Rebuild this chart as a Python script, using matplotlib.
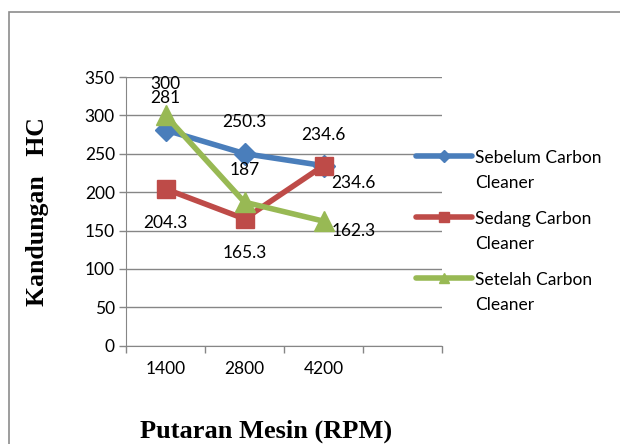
import numpy as np
import matplotlib.pyplot as plt
from matplotlib.patches import Rectangle
from matplotlib.legend_handler import HandlerLine2D

categories = ["1400", "2800", "4200"]
sebelum = [281, 250.3, 234.6]
sedang = [204.3, 165.3, 234.6]
setelah = [300, 187, 162.3]
names = ["Sebelum Carbon\nCleaner", "Sedang Carbon\nCleaner", "Setelah Carbon\nCleaner"]
colors = ["#4a7ebb", "#be4b48", "#98b954"]
markers = ["D", "s", "^"]
msizes = [11, 13, 14]

# label offsets in pixels (dx, dy), picked by eye
offsets = [
    [(0, 32), (0, 32), (0, 31)],
    [(0, -34), (0, -34), (30, -17)],
    [(0, 31), (0, 32), (30, -10)],
]


class TopHandler(HandlerLine2D):
    # put the legend line at the first text line, like Excel does
    def create_artists(self, legend, orig_handle, xdescent, ydescent, width,
                       height, fontsize, trans):
        arts = super().create_artists(legend, orig_handle, xdescent, ydescent,
                                      width, height, fontsize, trans)
        for a in arts:
            a.set_ydata(np.asarray(a.get_ydata()) + 0.85 * fontsize)
        return arts


plt.rcParams['font.family'] = ['Lato', 'DejaVu Sans']

fig = plt.figure(figsize=(6.2, 4.44), dpi=100)
fig.patches.append(Rectangle((9 / 620, -0.1), 1.2, 1 - 12 / 444 + 0.1,
                             transform=fig.transFigure, fill=False,
                             edgecolor="#8c8c8c", linewidth=1.2))
ax = fig.add_axes([126 / 620, 98.3 / 444, 316 / 620, 268.6 / 444])

x = np.arange(len(categories))
for vals, name, c, m, ms, offs in zip([sebelum, sedang, setelah], names, colors,
                                       markers, msizes, offsets):
    ax.plot(x, vals, color=c, linewidth=4, marker=m, markersize=ms,
            label=name, solid_capstyle="round")
    for xi, v, (dx, dy) in zip(x, vals, offs):
        ax.annotate(("%g" % v), (xi, v), xytext=(dx * 0.72, dy * 0.72),
                    textcoords="offset points", ha="center", va="center",
                    fontsize=12.5)

ax.set_xlim(-0.5, 3.5)
ax.set_ylim(0, 350)
ax.set_yticks(np.arange(0, 351, 50))
ax.set_xticks(x)
ax.set_xticklabels(categories)
ax.set_xticks(np.arange(-0.5, 3.6, 1), minor=True)
ax.tick_params(axis="x", which="major", length=0, pad=11, labelsize=12.5)
ax.tick_params(axis="x", which="minor", length=5, color="#868686", width=1)
ax.tick_params(axis="y", length=5, color="#868686", width=1, labelsize=12.5, pad=3)
ax.yaxis.grid(True, color="#868686", linewidth=1)
ax.set_axisbelow(True)
for s in ["top", "right"]:
    ax.spines[s].set_visible(False)
for s in ["left", "bottom"]:
    ax.spines[s].set_color("#868686")

leg = ax.legend(loc="upper left", bbox_to_anchor=(416 / 620, 1 - 150 / 444),
                bbox_transform=fig.transFigure, frameon=False, fontsize=12.5,
                handlelength=3.2, handletextpad=0.2, labelspacing=1.15,
                borderpad=0, borderaxespad=0, markerscale=0.55,
                handler_map={plt.Line2D: TopHandler()})
for t in leg.get_texts():
    t.set_linespacing(1.7)

fig.text(38 / 620, 1 - 212 / 444, "Kandungan   HC", rotation=90, ha="center",
         va="center", fontsize=18.5, fontweight="bold", family="Liberation Serif")
fig.text(266 / 620, 1 - 431 / 444, "Putaran Mesin (RPM)", ha="center",
         va="center", fontsize=19, fontweight="bold", family="Liberation Serif")

fig.savefig("out.png", dpi=100)
